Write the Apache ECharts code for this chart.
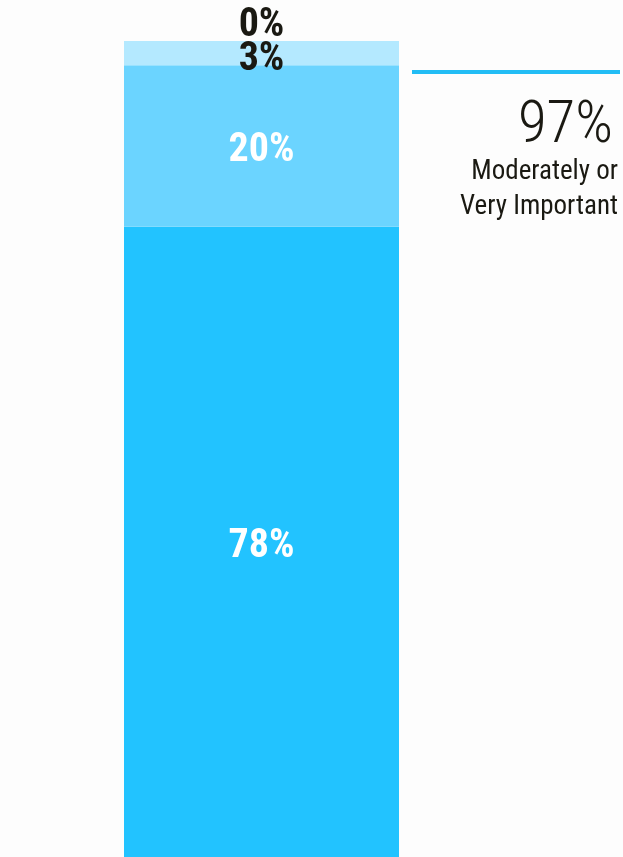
<!DOCTYPE html>
<html>
<head>
<meta charset="utf-8">
<script src="https://cdn.jsdelivr.net/npm/echarts@6/dist/echarts.min.js"></script>
<style>
  html, body { margin: 0; padding: 0; background: #fdfdfd; }
  #chart { width: 623px; height: 857px; }
</style>
</head>
<body>
<div id="chart"></div>
<script>
// Share of responses, stacked from the bottom up
const categories = ['Importance'];
const veryImportant = [78];
const moderatelyImportant = [20];
const slightlyImportant = [3];
const notImportant = [0];

// Summary callout on the right
const summaryValue = '97%';
const summaryLines = ['Moderately or', 'Very Important'];

const FONT = '"Roboto Condensed", "Open Sans Condensed", "Liberation Sans Narrow", "DejaVu Sans Condensed", sans-serif';
const INK = '#1a1912';

const total = veryImportant[0] + moderatelyImportant[0] + slightlyImportant[0] + notImportant[0];

function seg(name, data, color, labelColor, position, dy) {
  return {
    name: name,
    type: 'bar',
    stack: 'all',
    data: data,
    barWidth: '100%',
    itemStyle: { color: color },
    label: {
      show: true,
      position: position || 'inside',
      distance: 0,
      offset: [0, dy === undefined ? 5 : dy],
      formatter: '{c}%',
      color: labelColor,
      fontFamily: FONT,
      fontWeight: 'bold',
      fontSize: 40
    },
    silent: true
  };
}

const chart = echarts.init(document.getElementById('chart'), null, { renderer: 'canvas' });
chart.setOption({
  backgroundColor: '#fdfdfd',
  animation: false,
  grid: { left: 124, width: 275, top: 41, bottom: 0, containLabel: false },
  xAxis: {
    type: 'category',
    data: categories,
    show: false
  },
  yAxis: {
    type: 'value',
    min: 0,
    max: total,
    show: false
  },
  series: [
    seg('Very Important', veryImportant, '#22c3ff', '#ffffff'),
    seg('Moderately Important', moderatelyImportant, '#6bd4ff', '#ffffff'),
    seg('Slightly Important', slightlyImportant, '#b4e9ff', INK, 'inside', 7),
    seg('Not Important', notImportant, '#d8f4ff', INK, 'top', 5)
  ],
  graphic: [
    {
      type: 'rect',
      shape: { x: 412, y: 70, width: 208, height: 4 },
      style: { fill: '#22bdf5' },
      silent: true
    },
    {
      type: 'text',
      right: 10,
      top: 98,
      style: {
        text: summaryValue,
        fill: INK,
        font: '300 59px ' + FONT,
        textAlign: 'right'
      }
    },
    {
      type: 'text',
      right: 5,
      top: 155,
      style: {
        text: summaryLines.join('\n'),
        fill: INK,
        font: '27px ' + FONT,
        lineHeight: 35,
        textAlign: 'right'
      }
    }
  ]
});
</script>
</body>
</html>
